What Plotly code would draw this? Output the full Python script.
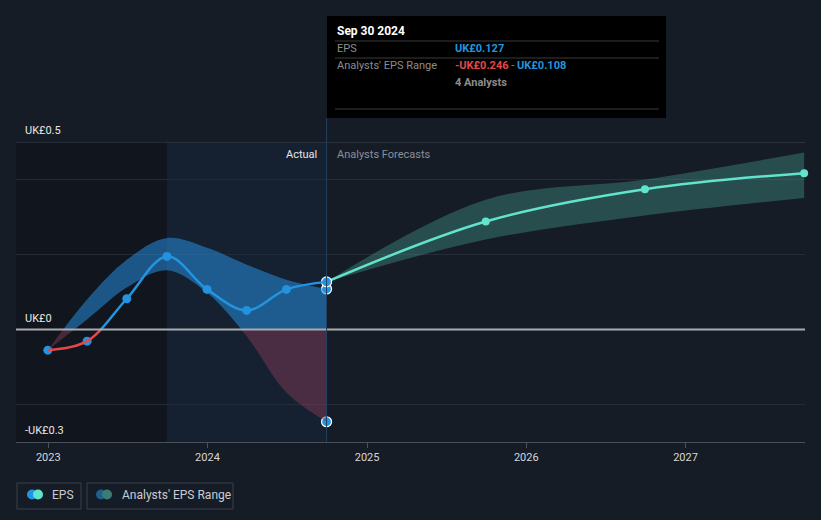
import plotly.graph_objects as go
import pandas as pd

# ---------------- data ----------------
actual_dates = ["2022-12-31", "2023-03-31", "2023-06-30", "2023-09-30",
                "2023-12-31", "2024-03-31", "2024-06-30", "2024-09-30"]
actual_eps = [-0.055, -0.031, 0.082, 0.195, 0.107, 0.051, 0.107, 0.127]
range_high = [-0.055, 0.080, 0.186, 0.244, 0.218, 0.173, 0.133, 0.108]
range_low = [-0.055, 0.027, 0.112, 0.158, 0.098, -0.018, -0.168, -0.246]

forecast_dates = ["2024-09-30", "2025-09-30", "2026-09-30", "2027-09-30"]
forecast_eps = [0.127, 0.288, 0.374, 0.417]
forecast_high = [0.127, 0.346, 0.400, 0.472]
forecast_low = [0.127, 0.240, 0.304, 0.351]

n_analysts = 4
year_ticks = ["2023-01-01", "2024-01-01", "2025-01-01", "2026-01-01", "2027-01-01"]
year_labels = ["2023", "2024", "2025", "2026", "2027"]
y_grid = [-0.3, -0.2, 0, 0.2, 0.4, 0.5]

# ---------------- style ----------------
BG = "#161c26"
BLUE = "#2394df"
RED = "#e5474b"
TEAL = "#62e3cb"
FONT = "Roboto"

W, H = 821, 520
L, R, T, B = 16, 805, 142, 442


def px(x):
    return (x - L) / (R - L)


def py(y):
    return (B - y) / (B - T)


def money(v):
    return ("-" if v < 0 else "") + f"UK£{abs(v):.3f}"


fig = go.Figure()

# blue band (above zero) on y3, red band (below zero) on y2
for ax, col in (("y3", "rgba(38,140,222,0.55)"), ("y2", "rgba(140,60,90,0.45)")):
    fig.add_trace(go.Scatter(x=actual_dates, y=range_low, yaxis=ax, mode="lines",
                             line=dict(width=0, shape="spline"), hoverinfo="skip",
                             showlegend=False))
    fig.add_trace(go.Scatter(x=actual_dates, y=range_high, yaxis=ax, mode="lines",
                             line=dict(width=0, shape="spline"), fill="tonexty",
                             fillcolor=col, hoverinfo="skip", showlegend=False))

# forecast band
fig.add_trace(go.Scatter(x=forecast_dates, y=forecast_low, mode="lines",
                         line=dict(width=0, shape="spline"), hoverinfo="skip",
                         showlegend=False))
fig.add_trace(go.Scatter(x=forecast_dates, y=forecast_high, mode="lines",
                         line=dict(width=0, shape="spline"), fill="tonexty",
                         fillcolor="rgba(90,205,185,0.28)", hoverinfo="skip",
                         showlegend=False))

# EPS line: blue above zero, red below zero
fig.add_trace(go.Scatter(x=actual_dates, y=actual_eps, yaxis="y3", mode="lines",
                         line=dict(color=BLUE, width=2.5, shape="spline"),
                         hoverinfo="skip", showlegend=False))
fig.add_trace(go.Scatter(x=actual_dates, y=actual_eps, yaxis="y2", mode="lines",
                         line=dict(color=RED, width=2.5, shape="spline"),
                         hoverinfo="skip", showlegend=False))

# forecast line
fig.add_trace(go.Scatter(x=forecast_dates, y=forecast_eps, mode="lines+markers",
                         line=dict(color=TEAL, width=2.5, shape="spline"),
                         marker=dict(color=TEAL, size=8), cliponaxis=False,
                         hoverinfo="skip", showlegend=False))

# actual markers
fig.add_trace(go.Scatter(x=actual_dates[:-1], y=actual_eps[:-1], mode="markers",
                         marker=dict(color=BLUE, size=9), hoverinfo="skip",
                         showlegend=False))
# hovered points (with white outline)
fig.add_trace(go.Scatter(x=[actual_dates[-1]] * 3,
                         y=[range_low[-1], range_high[-1], actual_eps[-1]],
                         mode="markers",
                         marker=dict(color=BLUE, size=10, line=dict(color="white", width=1.2)),
                         hoverinfo="skip", showlegend=False))

shapes = []
# background shading
shapes.append(dict(type="rect", xref="x", yref="paper", x0="2022-10-19", x1=actual_dates[3],
                   y0=0, y1=1, fillcolor="rgba(0,0,0,0.2)", line_width=0, layer="below"))
shapes.append(dict(type="rect", xref="x", yref="paper", x0=actual_dates[3], x1=actual_dates[-1],
                   y0=0, y1=1, fillcolor="rgba(20,80,140,0.1)", line_width=0, layer="below"))
# top line, zero line
shapes.append(dict(type="line", xref="paper", yref="y", x0=0, x1=1, y0=0.5, y1=0.5,
                   line=dict(color="#3e4552", width=1.2)))
shapes.append(dict(type="line", xref="paper", yref="y", x0=0, x1=1, y0=0, y1=0,
                   line=dict(color="#a9abb0", width=2)))
# crosshair
shapes.append(dict(type="line", xref="x", yref="paper", x0=actual_dates[-1], x1=actual_dates[-1],
                   y0=0, y1=py(118), line=dict(color="#23415f", width=1)))
# tooltip box
shapes.append(dict(type="rect", xref="paper", yref="paper", x0=px(327), x1=px(666),
                   y0=py(118), y1=py(16), fillcolor="#000000", line_width=0))
for yy in (41, 58, 109):
    shapes.append(dict(type="line", xref="paper", yref="paper", x0=px(335), x1=px(659),
                       y0=py(yy), y1=py(yy), line=dict(color="#3a3a3a", width=1)))
# legend boxes
shapes.append(dict(type="rect", xref="paper", yref="paper", x0=px(17), x1=px(81),
                   y0=py(509), y1=py(483), line=dict(color="#3a404c", width=1),
                   fillcolor="rgba(0,0,0,0)"))
shapes.append(dict(type="rect", xref="paper", yref="paper", x0=px(87), x1=px(233),
                   y0=py(509), y1=py(483), line=dict(color="#3a404c", width=1),
                   fillcolor="rgba(0,0,0,0)"))


def circle(cx, cy, r, color):
    return dict(type="circle", xref="paper", yref="paper", x0=px(cx - r), x1=px(cx + r),
                y0=py(cy + r), y1=py(cy - r), fillcolor=color, line_width=0)


shapes += [circle(32, 494.5, 5, BLUE), circle(38, 494.5, 5, TEAL),
           circle(101, 494.5, 5, "#235d8c"), circle(107, 494.5, 5, "#3a7d76")]

ann = []


def text(x, y, s, color, size=11, anchor="left", bold=False):
    if bold:
        s = f"<b>{s}</b>"
    ann.append(dict(xref="paper", yref="paper", x=px(x), y=py(y), text=s, showarrow=False,
                    xanchor=anchor, yanchor="middle", font=dict(color=color, size=size, family=FONT)))


# y labels
for v, lab in ((0.5, "UK£0.5"), (0, "UK£0"), (-0.3, "-UK£0.3")):
    ann.append(dict(xref="paper", yref="y", x=px(23), y=v, yshift=3, text=lab, showarrow=False,
                    xanchor="left", yanchor="bottom", font=dict(color="#e8e8e8", size=11, family=FONT)))

text(319, 154, "Actual", "#e6e6e6", anchor="right")
text(335, 154, "Analysts Forecasts", "#8a8f98")

# tooltip text
text(335, 31, pd.Timestamp(actual_dates[-1]).strftime("%b %d %Y"), "#ffffff", 12, bold=True)
text(335, 48.5, "EPS", "#8d8d8d")
text(453, 48.5, money(actual_eps[-1]), BLUE, bold=True)
text(335, 65.5, "Analysts' EPS Range", "#8d8d8d")
text(453, 65.5, f"<b><span style='color:{RED}'>{money(range_low[-1])}</span></b>"
     f"<span style='color:#8d8d8d'> - </span>"
     f"<b><span style='color:{BLUE}'>{money(range_high[-1])}</span></b>", BLUE)
text(453, 82.5, f"{n_analysts} Analysts", "#8d8d8d", bold=True)

# legend text
text(50, 494.5, "EPS", "#c8ccd2", 12)
text(120, 494.5, "Analysts' EPS Range", "#c8ccd2", 12)

fig.update_layout(
    width=W, height=H,
    margin=dict(l=L, r=W - R, t=T, b=H - B),
    paper_bgcolor=BG, plot_bgcolor="rgba(0,0,0,0)",
    showlegend=False,
    font=dict(family=FONT, color="#d6d6d6"),
    shapes=shapes, annotations=ann,
    xaxis=dict(type="date", range=["2022-10-19", "2027-10-02"], tickvals=year_ticks,
               ticktext=year_labels, showgrid=False, zeroline=False,
               showline=True, linecolor="#4a505a", linewidth=1,
               ticks="outside", ticklen=5, tickcolor="#4a505a",
               tickfont=dict(size=11, color="#d6d6d6", family=FONT), anchor="y"),
    yaxis=dict(domain=[0, 1], range=[-0.3, 0.5], tickvals=y_grid, showticklabels=False,
               gridcolor="#252c37", gridwidth=1, zeroline=False, showline=False, fixedrange=True),
    yaxis2=dict(domain=[0, 0.375], range=[-0.3, 0], anchor="x", visible=False, showgrid=False),
    yaxis3=dict(domain=[0.375, 1], range=[0, 0.5], anchor="x", visible=False, showgrid=False),
)

fig.write_html("out.html", config={"displayModeBar": False},
               post_script="document.body.style.margin='0';document.body.style.background='" + BG + "';")
